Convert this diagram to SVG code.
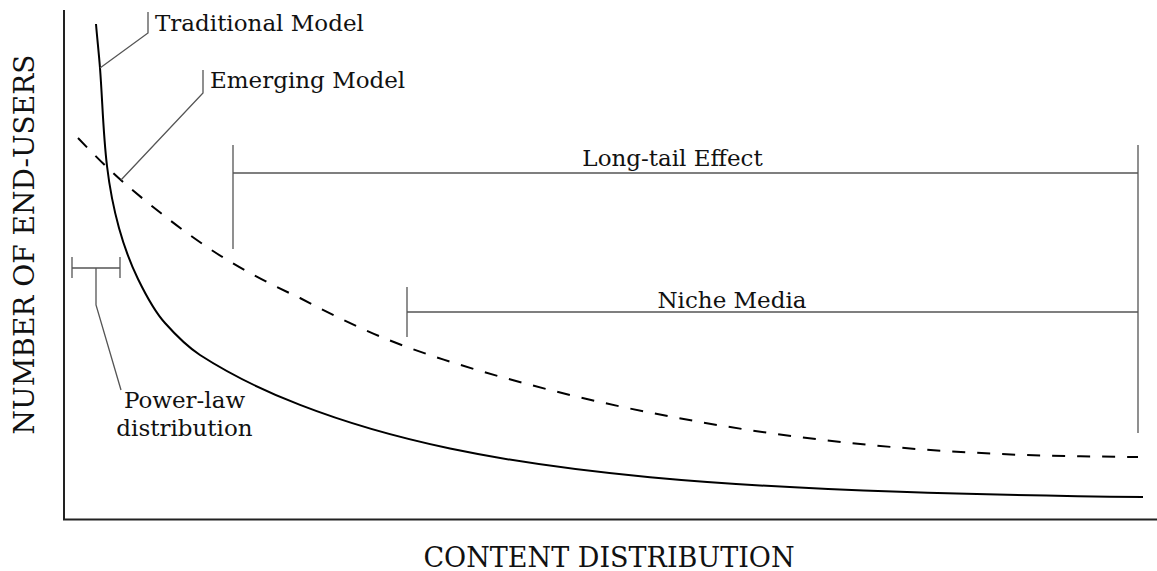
<svg xmlns="http://www.w3.org/2000/svg" width="1157" height="571" viewBox="0 0 1157 571">
<style>
.lbl{font-family:"DejaVu Serif","Liberation Serif",serif;font-size:23px;fill:#111}
.ax{font-family:"DejaVu Serif","Liberation Serif",serif;font-size:27px;fill:#111}
.axis{stroke:#222;stroke-width:2;fill:none}
.curve{stroke:#000;stroke-width:2;fill:none}
.dash{stroke:#000;stroke-width:2;fill:none;stroke-dasharray:13 12}
.lead{stroke:#555;stroke-width:1.3;fill:none}
</style>
<rect width="1157" height="571" fill="#fff"/>
<g id="axes">
<path class="axis" d="M64,10 V519.5 H1157"/>
</g>
<g id="curves">
<path id="traditional-curve" class="curve" d="M96,24 C97.2,38.7 98.9,53.3 100,68 C102.5,100.6 103.1,133.5 107,166 C109.5,187 113.4,207.7 119,228 C123.8,245.4 130.1,262.7 138,279 C146.2,295.8 154.4,311.4 165,323 C176.3,335.7 187.1,346.5 200,355 C233.3,376.5 266.7,392 300,404.9 C350,424.3 400,438 450,448.5 C516.7,462.5 583.3,471 650,477.2 C733.3,485 816.7,489 900,491.8 C981,494.5 1062,496 1143,497"/>
<path id="emerging-curve" class="dash" d="M78,138 C94.6,155.3 111.6,172.6 130,188 C156.6,210.3 184,232 213,251 C240.7,269.1 270.3,284.3 300,298 C335,316.3 370.2,333.6 407,347 C453.8,364 501.7,377.6 550,390 C599.5,402.7 649.7,413.1 700,422 C749.7,430.8 799.8,437.6 850,443 C899.8,448.3 950,451.6 1000,454 C1045.9,456.2 1092,456.5 1138,457"/>
</g>
<g id="connectors">
<path class="lead" d="M100,68 L148,33 V12"/>
<path class="lead" d="M121,180 L203,93 V70"/>
<path class="lead" d="M233,145 V249 M233,173 H1138 M1138,145 V433"/>
<path class="lead" d="M407,287 V337 M407,312 H1138"/>
<path class="lead" d="M72,257 V278 M72,268 H120 M120,257 V278 M96,268 V305 L121,390"/>
</g>
<g id="traditional-model">
<text class="lbl" x="155" y="31">Traditional Model</text>
</g>
<g id="emerging-model">
<text class="lbl" x="210" y="88">Emerging Model</text>
</g>
<g id="long-tail-effect">
<text class="lbl" x="672.5" y="166" text-anchor="middle">Long-tail Effect</text>
</g>
<g id="niche-media">
<text class="lbl" x="732" y="308" text-anchor="middle">Niche Media</text>
</g>
<g id="power-law">
<text class="lbl" x="184.5" y="408" text-anchor="middle">Power-law</text>
<text class="lbl" x="184.5" y="436" text-anchor="middle">distribution</text>
</g>
<g id="y-label">
<text class="ax" transform="translate(34,244.5) rotate(-90)" text-anchor="middle" style="font-size:28px">NUMBER OF END-USERS</text>
</g>
<g id="x-label">
<text class="ax" x="609" y="567" text-anchor="middle">CONTENT DISTRIBUTION</text>
</g>
</svg>
